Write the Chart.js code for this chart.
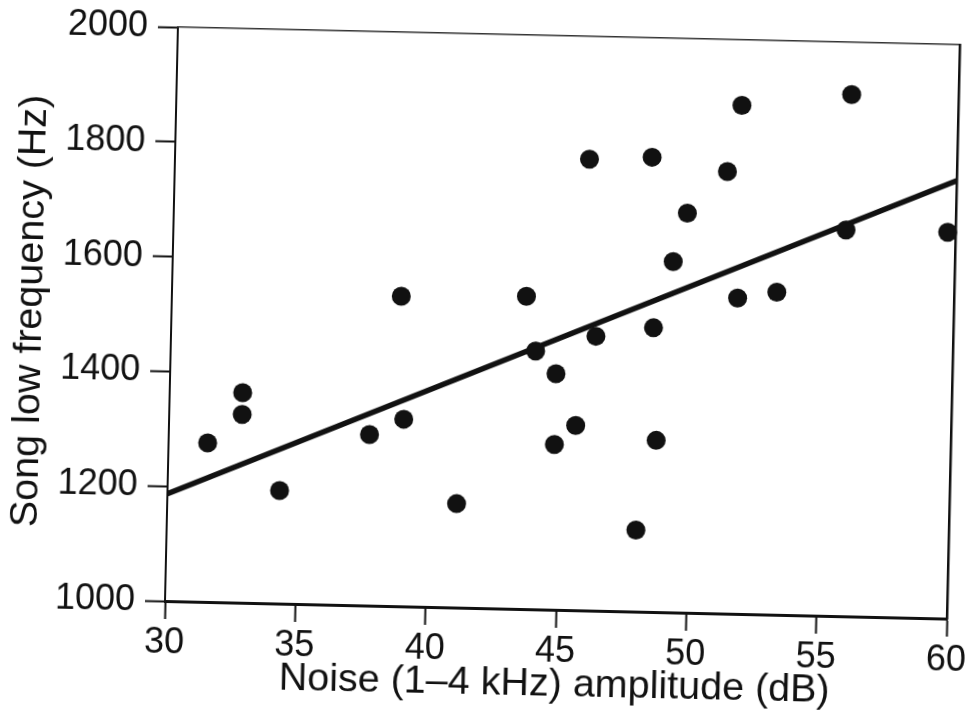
<!DOCTYPE html>
<html>
<head>
<meta charset="utf-8">
<title>Song low frequency vs noise amplitude</title>
<script src="https://cdn.jsdelivr.net/npm/chart.js@4.4.1/dist/chart.umd.min.js"></script>
<style>
  html, body { margin: 0; padding: 0; background: #fff; overflow: hidden; }
  /* the scanned figure sits a little askew, so tilt the canvas round the plot origin */
  #chart { display: block; transform-origin: 165px 601px; transform: rotate(1.29deg); }
</style>
</head>
<body>
<canvas id="chart" width="969" height="717"></canvas>
<script>
// one point per site: noise amplitude (dB) and song low frequency (Hz)
var noiseDb = [31.5, 32.8, 32.8, 34.3, 37.7, 38.8, 39.0, 41.1, 43.6, 44.0,
               44.8, 44.8, 45.6, 46.3, 45.9, 48.0, 48.3, 48.5, 48.7, 49.2,
               49.7, 51.2, 51.7, 51.7, 53.2, 55.8, 55.9, 59.7];
var songLowHz = [1277, 1366, 1328, 1197, 1298, 1540, 1326, 1181, 1545, 1450,
                 1411, 1288, 1322, 1478, 1786, 1142, 1792, 1495, 1299, 1611,
                 1696, 1770, 1886, 1550, 1562, 1673, 1909, 1673];

// regression line ends
var trendDb = [30, 60];
var trendHz = [1187, 1763];

var xTicks = [30, 35, 40, 45, 50, 55, 60];
var yTicks = [1000, 1200, 1400, 1600, 1800, 2000];

var ink = '#111';
var face = 'Liberation Sans, Arial, Helvetica, sans-serif';

var points = noiseDb.map(function(x, i) { return { x: x, y: songLowHz[i] }; });
var trend = trendDb.map(function(x, i) { return { x: x, y: trendHz[i] }; });

function useTicks(list) {
    return function(scale) {
        scale.ticks = list.map(function(v) { return { value: v }; });
    };
}
// plain numbers, no thousands comma
function plain(v) { return String(v); }

// fixed axis sizes so the plot box lands where the scan has it
function fixSize(w, h) {
    return function(s) {
        if (w !== null) s.width = w;
        if (h !== null) s.height = h;
        s.paddingTop = 0;
        s.paddingBottom = 0;
        s.paddingLeft = 0;
        s.paddingRight = 0;
    };
}

var ctx = document.getElementById('chart');
var myChart = new Chart(ctx, {
    type: 'scatter',
    data: {
        datasets: [{
            data: points,
            pointRadius: 9.5,
            pointBorderWidth: 0,
            backgroundColor: ink,
            clip: false
        }, {
            type: 'line',
            data: trend,
            showLine: true,
            borderColor: ink,
            borderWidth: 5.5,
            pointRadius: 0,
            fill: false
        }]
    },
    options: {
        responsive: false,
        animation: false,
        layout: { padding: { left: 0, top: 27, right: 22, bottom: 0 } },
        plugins: {
            legend: { display: false },
            tooltip: { enabled: false }
        },
        scales: {
            x: {
                type: 'linear',
                position: 'bottom',
                min: 30,
                max: 60,
                afterBuildTicks: useTicks(xTicks),
                afterFit: fixSize(null, 116),
                grid: { drawOnChartArea: false, tickLength: 18, tickWidth: 2, tickColor: ink },
                border: { color: ink, width: 3 },
                ticks: { color: ink, padding: 2, maxRotation: 0, callback: plain, font: { family: face, size: 36 } },
                title: {
                    display: true,
                    text: 'Noise (1\u20134 kHz) amplitude (dB)',
                    color: ink,
                    font: { family: face, size: 39.5 },
                    padding: { top: 0, bottom: 17 }
                }
            },
            y: {
                type: 'linear',
                position: 'left',
                min: 1000,
                max: 2000,
                afterBuildTicks: useTicks(yTicks),
                afterFit: fixSize(165, null),
                grid: { drawOnChartArea: false, tickLength: 20, tickWidth: 2, tickColor: ink },
                border: { color: ink, width: 2 },
                ticks: { color: ink, padding: 10, callback: plain, font: { family: face, size: 36 } },
                title: {
                    display: true,
                    text: 'Song low frequency (Hz)',
                    color: ink,
                    font: { family: face, size: 39.5 },
                    padding: { top: 0, bottom: 0 }
                }
            },
            // top and right edges of the frame
            x2: {
                type: 'linear',
                position: 'top',
                min: 30,
                max: 60,
                afterFit: fixSize(null, 0),
                grid: { display: false },
                ticks: { display: false },
                border: { color: '#333', width: 1.5 }
            },
            y2: {
                type: 'linear',
                position: 'right',
                min: 1000,
                max: 2000,
                afterFit: fixSize(0, null),
                grid: { display: false },
                ticks: { display: false },
                border: { color: ink, width: 2.5 }
            }
        }
    }
});
</script>
</body>
</html>
